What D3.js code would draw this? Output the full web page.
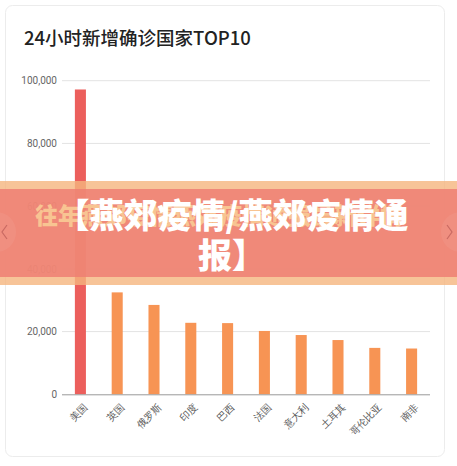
<!DOCTYPE html>
<html><head><meta charset="utf-8">
<script src="https://cdn.jsdelivr.net/npm/d3@7"></script>
<style>
html,body{margin:0;padding:0;background:#fff;}
svg{display:block;font-family:"Noto Sans CJK SC","Noto Sans",Roboto,sans-serif;}
</style></head>
<body>
<script>
const title = "24小时新增确诊国家TOP10";
const categories = ["美国","英国","俄罗斯","印度","巴西","法国","意大利","土耳其","哥伦比亚","南非"];
const values = [97200, 32500, 28500, 22800, 22700, 20200, 18900, 17300, 14800, 14600];
const yTicks = [0, 20000, 40000, 60000, 80000, 100000];
const bannerLines = ["【燕郊疫情/燕郊疫情通", "报】"];
const bannerBackText = "往年燕郊疫情燕郊疫情通报最新详情";

const W = 457, H = 466;
const svg = d3.select("body").append("svg").attr("width", W).attr("height", H);

// card
svg.append("rect").attr("x", 5.5).attr("y", 5.5).attr("width", 439).attr("height", 451)
  .attr("rx", 7).attr("fill", "#fff").attr("stroke", "#ececec");

svg.append("text").attr("x", 24).attr("y", 45).attr("font-size", 18.5).attr("font-weight", 500)
  .attr("fill", "#222").text(title);

const x = d3.scaleBand().domain(categories).range([62, 430]).paddingInner(0.7).paddingOuter(0.35);
const y = d3.scaleLinear().domain([0, 100000]).range([394.3, 80.7]);

const grid = svg.append("g");
grid.selectAll("line").data(yTicks.filter(d => d > 0)).join("line")
  .attr("x1", 62).attr("x2", 430).attr("y1", d => y(d)).attr("y2", d => y(d))
  .attr("stroke", "#e3e3e3").attr("stroke-width", 1);

const yAxis = d3.axisLeft(y).tickValues(yTicks).tickFormat(d3.format(",")).tickSize(0).tickPadding(5);
const ya = svg.append("g").attr("transform", "translate(62,0)").call(yAxis);
ya.select(".domain").remove();
ya.selectAll("text").attr("font-size", 10).attr("fill", "#666").attr("font-family", "Roboto,sans-serif");

svg.append("g").selectAll("rect").data(values).join("rect")
  .attr("x", (d, i) => x(categories[i]))
  .attr("width", x.bandwidth())
  .attr("y", d => y(d))
  .attr("height", d => y(0) - y(d))
  .attr("fill", (d, i) => i === 0 ? "#ec5f5c" : "#f79454");

const xAxis = d3.axisBottom(x).tickSize(0).tickPadding(6);
const xa = svg.append("g").attr("transform", `translate(0,${y(0)})`).call(xAxis);
xa.select(".domain").attr("stroke", "#999").attr("d", "M62,0.5H430");
xa.selectAll("text").attr("font-size", 10).attr("fill", "#555")
  .attr("text-anchor", "end").attr("dy", "0.35em")
  .attr("transform", "translate(1,7) rotate(-45)");

// banner overlay
const bn = svg.append("g");
bn.append("rect").attr("x", 0).attr("y", 181).attr("width", W).attr("height", 104)
  .attr("fill", "#f5b57e").attr("opacity", 0.8);
bn.append("rect").attr("x", 0).attr("y", 189).attr("width", W).attr("height", 88)
  .attr("fill", "#ee7d73").attr("opacity", 0.82);
// arrows
bn.append("circle").attr("cx", -4).attr("cy", 232).attr("r", 20).attr("fill", "#ffffff").attr("opacity", 0.06);
bn.append("circle").attr("cx", 461).attr("cy", 232).attr("r", 20).attr("fill", "#ffffff").attr("opacity", 0.06);
bn.append("path").attr("d", "M7,225 L2,232 L7,239").attr("fill", "none").attr("stroke", "#c96a62").attr("stroke-width", 1.2);
bn.append("path").attr("d", "M447,225 L452,232 L447,239").attr("fill", "none").attr("stroke", "#c96a62").attr("stroke-width", 1.2);

bn.append("text").attr("x", 35).attr("y", 224).attr("font-size", 23).attr("font-weight", 900)
  .attr("fill", "#f8c492").text(bannerBackText);

const bt = bn.append("text").attr("font-size", 34).attr("font-weight", 900).attr("fill", "#fff")
  .attr("text-anchor", "middle");
bt.selectAll("tspan").data(bannerLines).join("tspan")
  .attr("x", 232).attr("y", (d, i) => 228 + i * 40).text(d => d);
</script>
</body></html>
